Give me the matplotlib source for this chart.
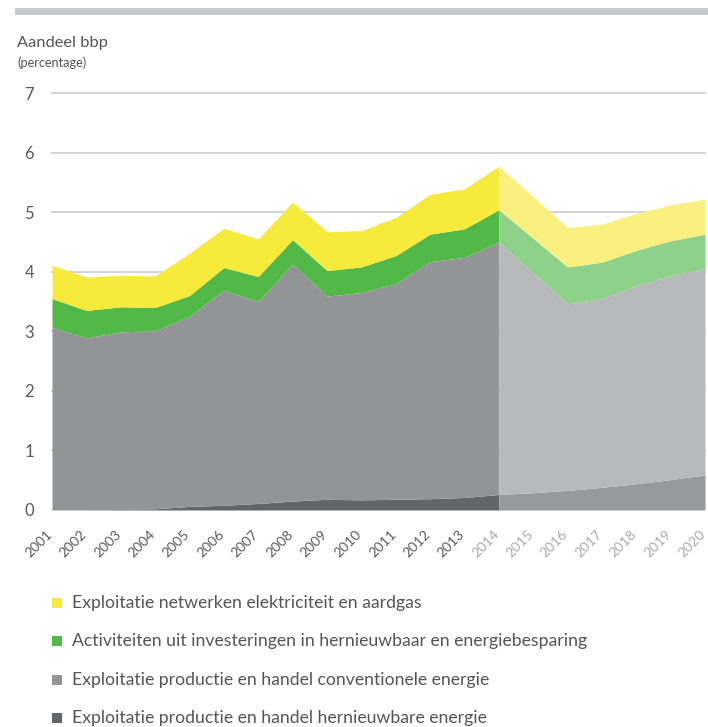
import matplotlib
matplotlib.use("Agg")
import matplotlib.pyplot as plt
import matplotlib.transforms as mtransforms
import numpy as np

plt.rcParams['font.family'] = ['Lato', 'DejaVu Sans']

years = list(range(2001, 2021))
first_projection_year = 2014

# Share of GDP (percentage) per activity, stacked bottom to top
hernieuwbaar = [0.00, 0.00, 0.01, 0.02, 0.06, 0.08, 0.11, 0.15, 0.18, 0.17,
                0.18, 0.19, 0.21, 0.26, 0.29, 0.33, 0.38, 0.44, 0.51, 0.59]
conventioneel_top = [3.07, 2.89, 2.99, 3.01, 3.25, 3.69, 3.50, 4.13, 3.59, 3.65,
                     3.80, 4.17, 4.24, 4.50, 3.98, 3.46, 3.55, 3.77, 3.93, 4.06]
investeringen_top = [3.55, 3.35, 3.41, 3.40, 3.60, 4.07, 3.92, 4.54, 4.02, 4.08,
                     4.27, 4.63, 4.72, 5.04, 4.56, 4.08, 4.16, 4.36, 4.52, 4.63]
netwerken_top = [4.11, 3.91, 3.94, 3.93, 4.31, 4.73, 4.55, 5.17, 4.67, 4.69,
                 4.91, 5.30, 5.39, 5.77, 5.26, 4.74, 4.80, 4.98, 5.12, 5.22]

conventioneel = [t - b for t, b in zip(conventioneel_top, hernieuwbaar)]
investeringen = [t - b for t, b in zip(investeringen_top, conventioneel_top)]
netwerken = [t - b for t, b in zip(netwerken_top, investeringen_top)]

series_labels = [
    "Exploitatie netwerken elektriciteit en aardgas",
    "Activiteiten uit investeringen in hernieuwbaar en energiebesparing",
    "Exploitatie productie en handel conventionele energie",
    "Exploitatie productie en handel hernieuwbare energie",
]
y_ticks = [0, 1, 2, 3, 4, 5, 6, 7]

# colours: (realised, projected), bottom layer first
colours = [
    ("#646567", "#98999b"),
    ("#939496", "#b8b9bb"),
    ("#52b848", "#8ed189"),
    ("#f6ea3a", "#f9f07f"),
]
legend_colours = ["#f6ea3a", "#52b848", "#939496", "#646567"]

W, H = 708, 727
fig = plt.figure(figsize=(W / 100, H / 100), dpi=100)

# grey band at the top
fig.add_artist(plt.Rectangle((15 / W, 1 - 15 / H), 1, 7 / H,
                             transform=fig.transFigure, color="#c8c9cb", lw=0))

x0_px, x1_px, y0_px, y1_px = 52, 705, 510, 93
ax = fig.add_axes([x0_px / W, 1 - y0_px / H, (x1_px - x0_px) / W, (y0_px - y1_px) / H])
ax.set_xlim(2001, 2020)
ax.set_ylim(0, 7)
for s in ax.spines.values():
    s.set_visible(False)

for y in y_ticks[1:]:
    ax.axhline(y, color="#cfd0d2", lw=1.3, zorder=0, clip_on=False)
ax.axhline(0, color="#d4d5d7", lw=2.0, zorder=0)

x = np.array(years, dtype=float)
layers = [np.array(hernieuwbaar), np.array(conventioneel),
          np.array(investeringen), np.array(netwerken)]
split = years.index(first_projection_year)
hist = slice(0, split + 1)
proj = slice(split, len(years))

base = np.zeros(len(years))
for vals, (c_hist, c_proj) in zip(layers, colours):
    top = base + vals
    ax.fill_between(x[hist], base[hist], top[hist], color=c_hist, lw=0, zorder=2)
    ax.fill_between(x[proj], base[proj], top[proj], color=c_proj, lw=0, zorder=2)
    base = top

ax.set_yticks(y_ticks)
ax.set_yticklabels([str(v) for v in y_ticks])
ax.tick_params(axis="y", length=0, pad=13, labelsize=12, labelcolor="#5a5a5a")
ax.set_xticks(years)
ax.set_xticklabels([str(y) for y in years], rotation=45, ha="right",
                   rotation_mode="anchor")
ax.tick_params(axis="x", length=0, pad=13, labelsize=10)
shift = mtransforms.ScaledTranslation(-6 / 100, 0, fig.dpi_scale_trans)
for lbl, yr in zip(ax.get_xticklabels(), years):
    lbl.set_color("#5a5a5a" if yr < first_projection_year else "#aaaaaa")
    lbl.set_transform(lbl.get_transform() + shift)

fig.text(17 / W, 1 - 43 / H, "Aandeel bbp", fontsize=11.8, color="#555555",
         va="center", ha="left")
fig.text(17 / W, 1 - 63 / H, "(percentage)", fontsize=9.2, color="#555555",
         va="center", ha="left")

# legend
leg_y = [603, 641, 680, 718]
for ypx, lab, col in zip(leg_y, series_labels, legend_colours):
    fig.add_artist(plt.Rectangle((52 / W, 1 - (ypx + 5) / H), 10 / W, 10 / H,
                                 transform=fig.transFigure, color=col, lw=0))
    fig.text(72 / W, 1 - ypx / H, lab, fontsize=12.7, color="#555555",
             va="center", ha="left")

fig.savefig("out.png", dpi=100)
